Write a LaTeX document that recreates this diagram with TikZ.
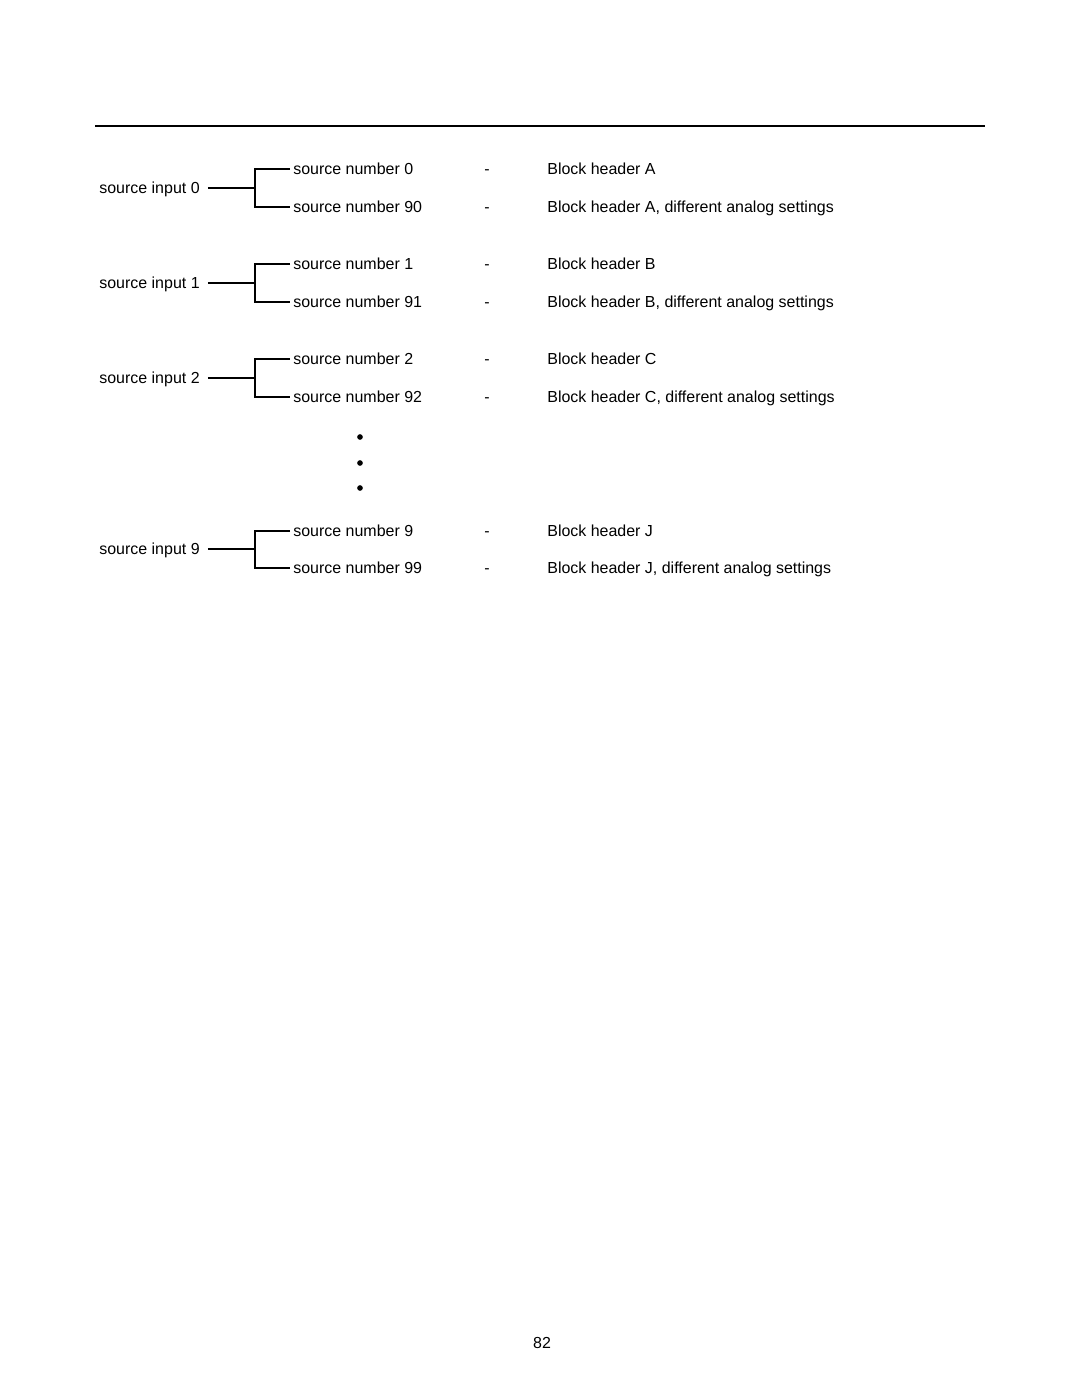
\documentclass[tikz,border=0pt]{standalone}
\usepackage{fontspec}
\setmainfont{Liberation Sans}
\begin{document}
\begin{tikzpicture}[x=0.5667pt, y=-0.5667pt,
    every node/.style={anchor=west, inner sep=0pt, text height=6.5pt, text depth=0pt, font=\fontsize{9.05}{11}\selectfont},
    link/.style={line width=0.9pt}]
    \useasboundingbox (0,0) rectangle (1080,1397);

    % Rule
    \coordinate (ruleL) at (95,126);
    \coordinate (ruleR) at (985,126);
    \draw[line width=1.5pt] (ruleL) -- (ruleR);

    % Nodes
    \node (in0) at (99,188) {source input 0};
    \node (sn0) at (293,169) {source number 0};
    \node (sn90) at (293,207) {source number 90};
    \node (d0) at (484,169) {-};
    \node (d90) at (484,207) {-};
    \node (bhA) at (547,169) {Block header A};
    \node (bhA2) at (547,207) {Block header A, different analog settings};

    \node (in1) at (99,283) {source input 1};
    \node (sn1) at (293,264) {source number 1};
    \node (sn91) at (293,302) {source number 91};
    \node (d1) at (484,264) {-};
    \node (d91) at (484,302) {-};
    \node (bhB) at (547,264) {Block header B};
    \node (bhB2) at (547,302) {Block header B, different analog settings};

    \node (in2) at (99,378) {source input 2};
    \node (sn2) at (293,359) {source number 2};
    \node (sn92) at (293,397) {source number 92};
    \node (d2) at (484,359) {-};
    \node (d92) at (484,397) {-};
    \node (bhC) at (547,359) {Block header C};
    \node (bhC2) at (547,397) {Block header C, different analog settings};

    \node (in9) at (99,549) {source input 9};
    \node (sn9) at (293,531) {source number 9};
    \node (sn99) at (293,568) {source number 99};
    \node (d9) at (484,531) {-};
    \node (d99) at (484,568) {-};
    \node (bhJ) at (547,531) {Block header J};
    \node (bhJ2) at (547,568) {Block header J, different analog settings};

    \node[anchor=center] (page) at (542,1343) {82};

    % Junctions
    \coordinate (j0) at (255,188);
    \coordinate (j1) at (255,283);
    \coordinate (j2) at (255,378);
    \coordinate (j9) at (255,549);

    % Lines
    \draw[link] ([xshift=4.5pt]in0.east) -- (j0);
    \draw[link] ([xshift=-1.7pt]sn0.west) -| (j0) |- ([xshift=-1.7pt]sn90.west);
    \draw[link] ([xshift=4.5pt]in1.east) -- (j1);
    \draw[link] ([xshift=-1.7pt]sn1.west) -| (j1) |- ([xshift=-1.7pt]sn91.west);
    \draw[link] ([xshift=4.5pt]in2.east) -- (j2);
    \draw[link] ([xshift=-1.7pt]sn2.west) -| (j2) |- ([xshift=-1.7pt]sn92.west);
    \draw[link] ([xshift=4.5pt]in9.east) -- (j9);
    \draw[link] ([xshift=-1.7pt]sn9.west) -| (j9) |- ([xshift=-1.7pt]sn99.west);

    % Dots
    \fill (360,437) circle (1.6pt);
    \fill (360,463) circle (1.6pt);
    \fill (360,488) circle (1.6pt);
\end{tikzpicture}
\end{document}
